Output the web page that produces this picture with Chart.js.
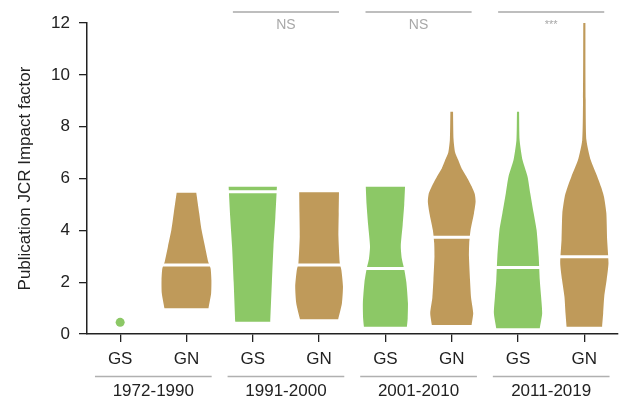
<!DOCTYPE html>
<html>
<head>
<meta charset="utf-8">
<script src="https://cdn.jsdelivr.net/npm/chart.js@4/dist/chart.umd.min.js"></script>
<style>
  html, body { margin: 0; padding: 0; background: #fff; }
  #wrap { width: 622px; height: 400px; position: relative; }
</style>
</head>
<body>
<div id="wrap"><canvas id="c"></canvas></div>
<script>
// ---- data ----
const categories = ['GS', 'GN', 'GS', 'GN', 'GS', 'GN', 'GS', 'GN'];
const groups = ['1972-1990', '1991-2000', '2001-2010', '2011-2019'];
const significance = [null, 'NS', 'NS', '***'];
const yTicks = [0, 2, 4, 6, 8, 10, 12];

// single observation (GS 1972-1990)
const singlePoint = 0.45;

// violin profiles: levels (impact factor) from top to bottom, and relative density at each level
const levels1 = [5.45, 4.66, 4.01, 3.37, 2.79, 2.53, 2.08, 1.57, 0.99];
const density1 = [0.37, 0.48, 0.57, 0.70, 0.82, 0.91, 0.94, 0.93, 0.83];
const levels2 = [5.68, 4.5, 3.37, 2.0, 0.47];
const density2 = [0.91, 0.85, 0.78, 0.72, 0.66];
const levels3 = [5.47, 4.66, 3.75, 2.73, 2.47, 1.83, 1.18, 0.57];
const density3 = [0.75, 0.74, 0.73, 0.78, 0.84, 0.90, 0.86, 0.72];
const levels4 = [5.68, 5.0, 4.2, 3.4, 2.9, 2.5, 2.0, 1.2, 0.6, 0.28];
const density4 = [0.74, 0.71, 0.65, 0.58, 0.62, 0.71, 0.79, 0.85, 0.84, 0.81];
const levels5 = [8.58, 7.5, 7.0, 6.7, 6.4, 6.07, 5.7, 5.4, 5.1, 4.66, 4.0, 3.5, 3.0, 2.08, 1.4, 0.8, 0.35];
const density5 = [0.05, 0.07, 0.13, 0.25, 0.37, 0.56, 0.75, 0.87, 0.90, 0.84, 0.71, 0.66, 0.65, 0.69, 0.73, 0.81, 0.75];
const levels6 = [8.58, 7.48, 6.71, 6.07, 5.43, 4.66, 4.01, 2.98, 2.08, 1.44, 0.8, 0.22];
const density6 = [0.04, 0.06, 0.17, 0.36, 0.46, 0.59, 0.70, 0.78, 0.82, 0.87, 0.91, 0.82];
const levels7 = [12.14, 9.03, 7.48, 6.71, 6.07, 5.68, 5.3, 4.66, 3.63, 2.73, 2.08, 1.44, 0.8, 0.28];
const density7 = [0.04, 0.05, 0.08, 0.24, 0.49, 0.63, 0.74, 0.83, 0.86, 0.91, 0.84, 0.75, 0.71, 0.67];

// medians per category (index 0 is the single point)
const medians = [null, 2.66, 5.49, 2.66, 2.53, 3.73, 2.57, 2.98];

// ---- styles ----
const GREEN = '#8cc866';
const TAN = '#bf9a5a';
const FONT = '"Liberation Sans", Arial, sans-serif';
const HALF = 0.4;       // max half-width of a violin in category units
const MEDIAN_HALF = 0.44;

const violins = [
  { cat: 1, levels: levels1, density: density1 },
  { cat: 2, levels: levels2, density: density2 },
  { cat: 3, levels: levels3, density: density3 },
  { cat: 4, levels: levels4, density: density4 },
  { cat: 5, levels: levels5, density: density5 },
  { cat: 6, levels: levels6, density: density6 },
  { cat: 7, levels: levels7, density: density7 },
];

function violinPoints(v) {
  const pts = [];
  const n = v.levels.length;
  for (let i = 0; i < n; i++) {
    pts.push({ x: v.cat - v.density[i] * HALF, y: v.levels[i] });
  }
  pts.push({ x: v.cat - v.density[n - 1] * HALF, y: v.levels[n - 1] });
  pts.push({ x: v.cat + v.density[n - 1] * HALF, y: v.levels[n - 1] });
  for (let i = n - 1; i >= 0; i--) {
    pts.push({ x: v.cat + v.density[i] * HALF, y: v.levels[i] });
  }
  return pts;
}

const colorFor = (cat) => categories[cat] === 'GS' ? GREEN : TAN;

const medianData = [];
medians.forEach((m, i) => {
  if (m === null) return;
  medianData.push({ x: i - MEDIAN_HALF, y: m });
  medianData.push({ x: i + MEDIAN_HALF, y: m });
  medianData.push({ x: i + 0.5, y: null });
});

const datasets = [
  {
    label: 'median',
    data: medianData,
    showLine: true,
    borderColor: '#ffffff',
    borderWidth: 3,
    borderCapStyle: 'butt',
    pointRadius: 0,
    spanGaps: false,
    fill: false,
  },
  {
    label: 'single',
    data: [{ x: 0, y: singlePoint }],
    showLine: false,
    pointRadius: 4.5,
    pointBackgroundColor: GREEN,
    pointBorderWidth: 0,
    pointBorderColor: GREEN,
  },
  ...violins.map(v => ({
    label: 'violin' + v.cat,
    data: violinPoints(v),
    showLine: true,
    fill: 'shape',
    backgroundColor: colorFor(v.cat),
    borderColor: 'rgba(0,0,0,0)',
    borderWidth: 0.01,
    pointRadius: 0,
    tension: 0.2,
  })),
];

const annotations = {
  id: 'annotations',
  afterDraw(chart) {
    const { ctx } = chart;
    const xs = chart.scales.x;
    const ys = chart.scales.y;
    ctx.save();
    // group labels below axis
    groups.forEach((g, gi) => {
      const c = gi * 2 + 0.5;
      const x0 = xs.getPixelForValue(c - 0.88);
      const x1 = xs.getPixelForValue(c + 0.88);
      const yl = xs.bottom + 9.5;
      ctx.strokeStyle = '#b0b0b0';
      ctx.lineWidth = 1.5;
      ctx.beginPath();
      ctx.moveTo(x0, yl);
      ctx.lineTo(x1, yl);
      ctx.stroke();
      ctx.fillStyle = '#222';
      ctx.font = '17px ' + FONT;
      ctx.textAlign = 'center';
      ctx.textBaseline = 'middle';
      ctx.fillText(g, xs.getPixelForValue(c), yl + 15);
    });
    // significance bars
    significance.forEach((s, gi) => {
      if (!s) return;
      const c = gi * 2 + 0.5;
      const x0 = xs.getPixelForValue(c - 0.8);
      const x1 = xs.getPixelForValue(c + 0.8);
      const yb = ys.top - 11;
      ctx.strokeStyle = '#a8a8a8';
      ctx.lineWidth = 1.5;
      ctx.beginPath();
      ctx.moveTo(x0, yb);
      ctx.lineTo(x1, yb);
      ctx.stroke();
      ctx.fillStyle = '#a8a8a8';
      ctx.textAlign = 'center';
      ctx.textBaseline = 'middle';
      ctx.font = (s === '***' ? '11px ' : '14px ') + FONT;
      ctx.fillText(s, xs.getPixelForValue(c), yb + 13);
    });
    ctx.restore();
  }
};

new Chart(document.getElementById('c'), {
  type: 'scatter',
  data: { datasets },
  plugins: [annotations],
  options: {
    responsive: true,
    maintainAspectRatio: false,
    animation: false,
    layout: { padding: { top: 23, right: 2, bottom: 33, left: 0 } },
    plugins: { legend: { display: false }, tooltip: { enabled: false } },
    elements: { line: { capBezierPoints: true } },
    scales: {
      x: {
        type: 'linear',
        min: -0.5,
        max: 7.5,
        afterBuildTicks: (s) => { s.ticks = categories.map((_, i) => ({ value: i })); },
        afterFit: (s) => { s.height = 33; },
        ticks: {
          callback: (v) => categories[v],
          autoSkip: false,
          maxRotation: 0,
          color: '#222',
          padding: 7,
          font: { family: FONT, size: 17 },
        },
        grid: { drawOnChartArea: false, tickLength: 8, color: '#222', lineWidth: 1.3 },
        border: { color: '#222', width: 1.5 },
      },
      y: {
        min: 0,
        max: 12,
        afterBuildTicks: (s) => { s.ticks = yTicks.map(v => ({ value: v })); },
        afterFit: (s) => { s.width = 87; },
        ticks: {
          color: '#222',
          padding: 9,
          font: { family: FONT, size: 17 },
        },
        grid: { drawOnChartArea: false, tickLength: 8, color: '#222', lineWidth: 1.3 },
        border: { color: '#222', width: 1.5 },
        title: {
          display: true,
          text: 'Publication JCR Impact factor',
          color: '#222',
          font: { family: FONT, size: 17 },
          padding: { top: 15, bottom: 0 },
        },
      },
    },
  },
});
</script>
</body>
</html>
